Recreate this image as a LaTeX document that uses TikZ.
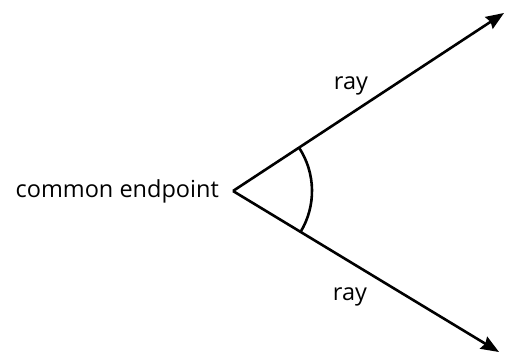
\documentclass[tikz,border=0pt]{standalone}
\usepackage{fontspec}
\setmainfont{Open Sans}
\usetikzlibrary{arrows.meta, positioning, angles}

\begin{document}
\begin{tikzpicture}[x=1pt, y=1pt,
  ray/.style={line width=2.6pt, -{Stealth[length=18pt, width=14pt, inset=2pt]}},
  lbl/.style={font=\fontsize{23.5}{27}\selectfont, inner sep=2pt}]
\useasboundingbox (0,0) rectangle (507,354);
% Vertex and ray ends
\coordinate (O) at (233,163);
\coordinate (A) at (504,341);
\coordinate (B) at (499,2);
% Rays
\draw[ray] (O) -- (A);
\draw[ray] (O) -- (B);
% Angle mark
\pic[draw, line width=2.6pt, angle radius=79pt] {angle=B--O--A};
% Labels
\node[lbl, left=12pt of O] (endpt) {common endpoint};
\node[lbl] (rayup) at (351,268) {ray};
\node[lbl] (raydn) at (350,57) {ray};
\end{tikzpicture}
\end{document}
